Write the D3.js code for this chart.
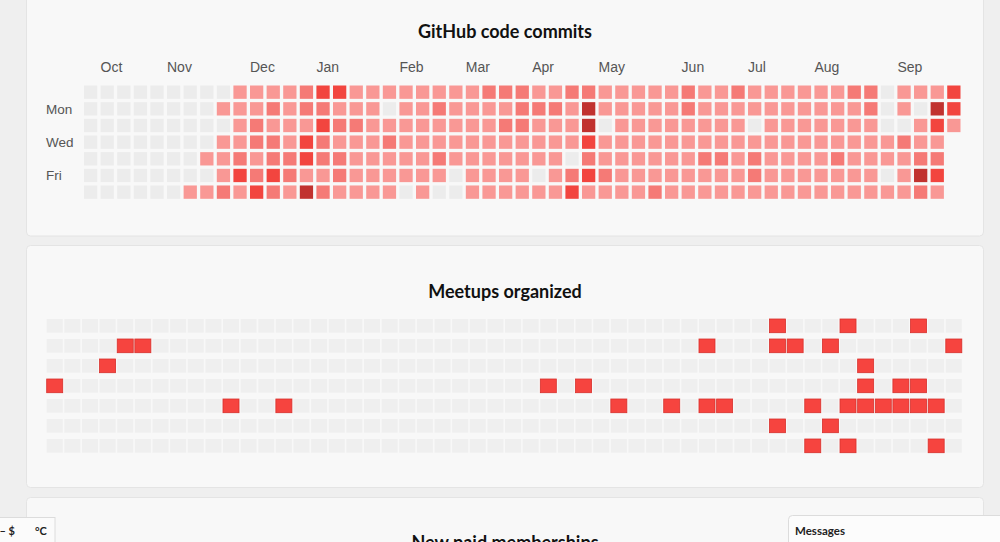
<!DOCTYPE html>
<html lang="en">
  <head>
    <meta charset="UTF-8" />
    <title>Dashboard heatmaps</title>
    <style>
      body { margin: 0; background: #efefef; overflow: hidden; }
    </style>
  </head>
  <body>
    <script src="https://d3js.org/d3.v7.min.js"></script>
    <script>
      const width = 1000
      const height = 542

      // commit intensity per weekday (0 = none ... 4 = most), one value per week column
      const commitsSun = [0,0,0,0,0,0,0,0,0, 1,1,1,1,2,3,3,1,1, 1,1,1,1,1,1,2,2,2,1,1,2,2,1,1,1,1,1, 2,1,1,2,1,1,1,1,1,1,2,2,0,1,1,1,3]
      const commitsMon = [0,0,0,0,0,0,0,0, 1,1,1,2,1,2,2,1,1,1, 0,1,1,2,1,1,1,1,2,2,2,1,4,1,1,1,1,1, 2,1,1,1,1,1,1,1,1,1,1,2,0,1,0,4,3]
      const commitsTue = [0,0,0,0,0,0,0,0,0, 1,2,1,1,1,3,2,2,1, 1,1,1,1,1,1,1,2,2,1,1,1,4,0,1,1,1,1, 1,1,1,1,0,1,1,1,1,1,1,1,0,0,1,3,1]
      const commitsWed = [0,0,0,0,0,0,0,0, 1,1,2,2,1,3,2,1,1,1, 2,1,1,1,1,1,1,1,1,1,1,1,3,1,1,1,1,1, 1,1,1,1,1,1,1,1,1,1,1,1,1,2,1,1]
      const commitsThu = [0,0,0,0,0,0,0, 1,1,2,1,2,2,3,2,2,1,1, 1,1,1,2,1,1,1,1,1,1,1,0,2,1,1,1,1,1, 1,2,2,1,2,1,1,1,1,2,1,1,1,1,2,2]
      const commitsFri = [0,0,0,0,0,0,0,0, 1,3,2,3,2,1,1,2,1,1, 1,1,1,1,0,1,1,1,1,0,1,2,3,2,1,1,1,1, 1,1,1,1,2,1,1,1,1,1,1,1,0,1,4,3]
      const commitsSat = [0,0,0,0,0,0, 1,1,2,1,3,2,1,4,2,1,1,1, 1,0,1,0,0,1,1,1,1,1,1,3,1,1,1,1,2,1, 1,1,1,1,1,1,1,1,1,1,1,1,1,1,2,1]
      const commitRows = [commitsSun, commitsMon, commitsTue, commitsWed, commitsThu, commitsFri, commitsSat]

      const firstDay = new Date(2020, 8, 27) // Sunday
      const lastDay = new Date(2021, 8, 28)  // Tuesday
      const dayLabels = ["", "Mon", "", "Wed", "", "Fri", ""]
      const monthLabels = ["Oct","Nov","Dec","Jan","Feb","Mar","Apr","May","Jun","Jul","Aug","Sep"]

      // meetups: week columns that had a meetup, per weekday row
      const meetupWeeks = [
        [41, 45, 49],
        [4, 5, 37, 41, 42, 44, 51],
        [3, 46],
        [0, 28, 30, 46, 48, 49],
        [10, 13, 32, 35, 37, 38, 43, 45, 46, 47, 48, 49, 50],
        [41, 44],
        [43, 45, 50]
      ]
      const meetupWeekCount = 52

      const titleFont = "Lato, 'Open Sans', sans-serif"
      const labelFont = "'Liberation Sans', Arial, sans-serif"

      const svg = d3.select("body").append("svg")
        .attr("width", width)
        .attr("height", height)
        .style("display", "block")

      // cards
      const cards = [
        { y: -6, h: 242, title: "GitHub code commits", ty: 38 },
        { y: 245.5, h: 242, title: "Meetups organized", ty: 298 },
        { y: 497.5, h: 120, title: "New paid memberships", ty: 549 }
      ]
      svg.selectAll("rect.card")
        .data(cards)
        .enter()
        .append("rect")
        .attr("class", "card")
        .attr("x", 26.5)
        .attr("y", d => d.y)
        .attr("width", 957)
        .attr("height", d => d.h)
        .attr("rx", 4)
        .attr("fill", "#f8f8f8")
        .attr("stroke", "#e4e4e4")

      svg.selectAll("text.title")
        .data(cards)
        .enter()
        .append("text")
        .attr("class", "title")
        .attr("x", 505)
        .attr("y", d => d.ty)
        .attr("text-anchor", "middle")
        .style("font-family", titleFont)
        .style("font-weight", 700)
        .style("font-size", "18px")
        .attr("fill", "#111")
        .text(d => d.title)

      // ---- GitHub commits calendar ----
      const days = d3.timeDays(firstDay, d3.timeDay.offset(lastDay, 1)).map(date => {
        const week = d3.timeWeek.count(firstDay, date)
        const wd = date.getDay()
        return { date, week, wd, value: commitRows[wd][week] }
      })
      const weekCount = d3.max(days, d => d.week) + 1

      const x = d3.scaleBand()
        .domain(d3.range(weekCount))
        .range([84, 960.5])
        .paddingInner(0.2)
      const y = d3.scaleBand()
        .domain(d3.range(7))
        .range([85.5, 198.8])
        .paddingInner(0.2)

      const commitColor = d3.scaleThreshold()
        .domain([1, 2, 3, 4])
        .range(["#ececec", "#f99895", "#f57a76", "#f2453f", "#c1322f"])

      svg.append("g")
        .selectAll("rect")
        .data(days)
        .enter()
        .append("rect")
        .attr("x", d => x(d.week))
        .attr("y", d => y(d.wd))
        .attr("width", x.bandwidth())
        .attr("height", y.bandwidth())
        .attr("fill", d => commitColor(d.value))

      // month labels at the first week starting inside each month
      const months = d3.timeMonths(d3.timeMonth.ceil(firstDay), lastDay).map((m, i) => {
        return { label: monthLabels[i], week: d3.timeWeek.count(firstDay, d3.timeWeek.ceil(m)) }
      })
      svg.append("g")
        .selectAll("text")
        .data(months)
        .enter()
        .append("text")
        .attr("x", d => x(d.week))
        .attr("y", 72)
        .style("font-family", labelFont)
        .style("font-size", "14px")
        .attr("fill", "#555")
        .text(d => d.label)

      svg.append("g")
        .selectAll("text")
        .data(dayLabels)
        .enter()
        .append("text")
        .attr("x", 46)
        .attr("y", (d, i) => y(i) + y.bandwidth() / 2)
        .attr("dy", "0.35em")
        .style("font-family", labelFont)
        .style("font-size", "13.5px")
        .attr("fill", "#555")
        .text(d => d)

      // ---- Meetups grid ----
      const meetupCells = []
      meetupWeeks.forEach((weeks, wd) => {
        d3.range(meetupWeekCount).forEach(week => {
          meetupCells.push({ week, wd, value: weeks.includes(week) ? 1 : 0 })
        })
      })

      const mx = d3.scaleBand()
        .domain(d3.range(meetupWeekCount))
        .range([46.7, 961.8])
        .paddingInner(0.092)
      const my = d3.scaleBand()
        .domain(d3.range(7))
        .range([319, 452.7])
        .paddingInner(0.315)

      svg.append("g")
        .selectAll("rect")
        .data(meetupCells)
        .enter()
        .append("rect")
        .attr("x", d => mx(d.week))
        .attr("y", d => my(d.wd))
        .attr("width", mx.bandwidth())
        .attr("height", my.bandwidth())
        .attr("fill", d => d.value ? "#f6443f" : "#efefef")
        .attr("stroke", d => d.value ? "#d8302c" : "none")
        .attr("stroke-width", 0.8)

      // ---- small overlay widgets at the bottom ----
      svg.append("rect")
        .attr("x", -1).attr("y", 517.5)
        .attr("width", 56).attr("height", 30)
        .attr("fill", "#fbfbfb").attr("stroke", "#dcdcdc")
      svg.append("text")
        .attr("x", 15).attr("y", 535)
        .attr("text-anchor", "end")
        .style("font-family", titleFont).style("font-weight", 700).style("font-size", "11px")
        .attr("fill", "#222")
        .text("– $")
      svg.append("text")
        .attr("x", 35).attr("y", 535)
        .style("font-family", titleFont).style("font-weight", 700).style("font-size", "11px")
        .attr("fill", "#222")
        .text("°C")

      svg.append("rect")
        .attr("x", 788.5).attr("y", 515.5)
        .attr("width", 230).attr("height", 40)
        .attr("rx", 4)
        .attr("fill", "#fcfcfc").attr("stroke", "#dcdcdc")
      svg.append("text")
        .attr("x", 795).attr("y", 535)
        .style("font-family", titleFont).style("font-weight", 700).style("font-size", "11.5px")
        .attr("fill", "#222")
        .text("Messages")
    </script>
  </body>
</html>
